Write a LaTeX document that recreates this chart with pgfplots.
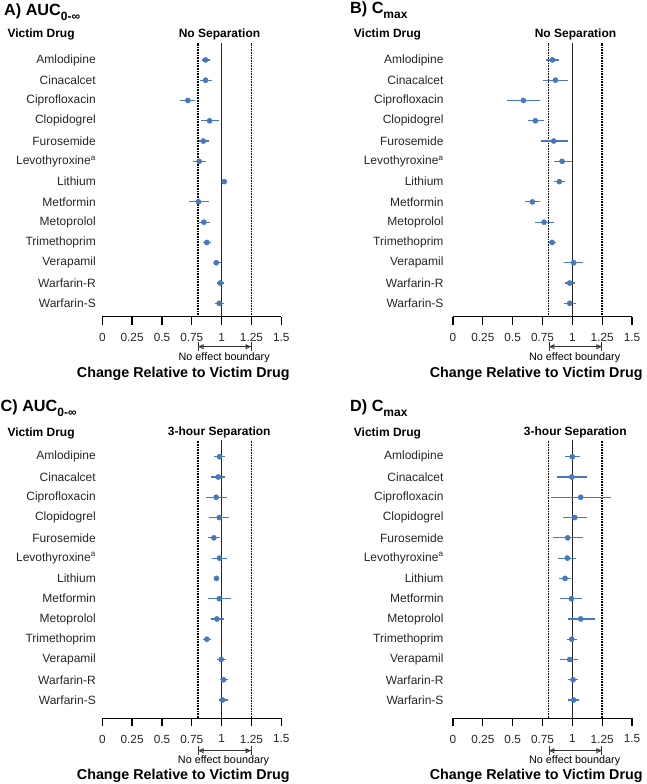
\documentclass[border=0pt]{standalone}
\usepackage{fontspec}
\setmainfont{Liberation Sans}
\usepackage{pgfplots}
\usepackage{pgfplotstable}
\pgfplotsset{compat=1.18}
\usetikzlibrary{arrows.meta}
\definecolor{dotblue}{RGB}{70,120,190}

\pgfplotstableread{
r m lo hi
13 0.865 0.835 0.905
12 0.865 0.815 0.918
11 0.717 0.652 0.778
10 0.899 0.829 0.977
9 0.846 0.812 0.890
8 0.812 0.764 0.868
7 1.022 1.005 1.038
6 0.806 0.728 0.890
5 0.851 0.812 0.899
4 0.876 0.848 0.910
3 0.955 0.927 0.994
2 0.988 0.963 1.016
1 0.980 0.946 1.016
}\tabA
\pgfplotstableread{
r m lo hi
13 0.833 0.782 0.886
12 0.858 0.754 0.964
11 0.590 0.453 0.732
10 0.690 0.629 0.760
9 0.844 0.735 0.964
8 0.914 0.847 0.995
7 0.891 0.844 0.942
6 0.665 0.606 0.726
5 0.763 0.687 0.844
4 0.830 0.802 0.866
3 1.011 0.930 1.087
2 0.978 0.939 1.020
1 0.978 0.930 1.031
}\tabB
\pgfplotstableread{
r m lo hi
13 0.982 0.932 1.030
12 0.971 0.907 1.030
11 0.954 0.870 1.044
10 0.980 0.896 1.058
9 0.935 0.887 0.988
8 0.982 0.918 1.044
7 0.957 0.945 0.969
6 0.980 0.882 1.080
5 0.960 0.907 1.016
4 0.876 0.845 0.910
3 0.996 0.960 1.038
2 1.016 0.988 1.052
1 1.008 0.974 1.050
}\tabC
\pgfplotstableread{
r m lo hi
13 1.000 0.939 1.062
12 0.995 0.875 1.120
11 1.070 0.819 1.327
10 1.020 0.922 1.120
9 0.961 0.838 1.092
8 0.958 0.883 1.034
7 0.939 0.889 0.992
6 0.992 0.900 1.081
5 1.070 0.964 1.187
4 0.995 0.958 1.037
3 0.978 0.900 1.051
2 1.006 0.967 1.045
1 1.011 0.964 1.059
}\tabD

\pgfplotsset{
  fp/.style={
    scale only axis, width=179pt,
    xmin=0, xmax=1.5,
    axis x line=bottom, axis y line=left,
    x axis line style={-, line width=1.3pt, black},
    y axis line style={draw=none},
    xtick={0,0.25,0.5,0.75,1,1.25,1.5},
    xticklabels={0,0.25,0.5,0.75,1,1.25,1.5},
    tick align=outside,
    major tick length=8pt,
    xtick style={line width=1.3pt, black},
    ytick={1,...,13},
    yticklabels={Warfarin-S,Warfarin-R,Verapamil,Trimethoprim,Metoprolol,Metformin,Lithium,Levothyroxine\textsuperscript{a},Furosemide,Clopidogrel,Ciprofloxacin,Cinacalcet,Amlodipine},
    ytick style={draw=none},
    xticklabel style={font=\fontsize{11.8}{12}\selectfont, text=black!85, yshift=-5pt},
    yticklabel style={font=\fontsize{12}{12}\selectfont, text=black!85, anchor=east},
    clip=false,
  },
  dat/.style={
    only marks, mark=*, mark size=2.6pt, color=dotblue,
    error bars/.cd, x dir=both, x explicit, error mark=none,
    error bar style={line width=1.15pt, dotblue},
  },
}
\newcommand{\reflines}[2]{%
  \draw[line width=1.5pt, black!85] (axis cs:1,#1) -- (axis cs:1,#2);
  \draw[line width=1.8pt, black, dash pattern=on 0.8pt off 0.8pt] (axis cs:0.8,#1) -- (axis cs:0.8,#2);
  \draw[line width=1.8pt, black, dash pattern=on 0.8pt off 0.8pt] (axis cs:1.25,#1) -- (axis cs:1.25,#2);
}
\newcommand{\plotdata}[1]{%
  \addplot[dat] table[x=m, y=r,
    x error plus expr=\thisrow{hi}-\thisrow{m},
    x error minus expr=\thisrow{m}-\thisrow{lo}] {#1};
}
\newcommand{\bracket}[3]{%
  \draw[line width=0.8pt, black!80,
    {Bar[width=9pt]Triangle[open,length=5pt,width=5pt]}-{Triangle[open,length=5pt,width=5pt]Bar[width=9pt]}]
    (#1pt,#3pt) -- (#2pt,#3pt);
}
\newcommand{\btxt}{\fontsize{12}{12}\selectfont\bfseries}

\begin{document}
\begin{tikzpicture}
% Panel A
\begin{axis}[fp, at={(102.3pt,467.3pt)}, anchor=south west, height=273.8pt, ymin=0.34, ymax=13.84,
  yticklabel style={xshift=5pt}]
\reflines{0.34}{13.84}
\plotdata{\tabA}
\end{axis}
% Panel B
\begin{axis}[fp, at={(453pt,467.3pt)}, anchor=south west, height=273.8pt, ymin=0.34, ymax=13.84,
  yticklabel style={xshift=2pt}]
\reflines{0.34}{13.84}
\plotdata{\tabB}
\end{axis}
% Panel C
\begin{axis}[fp, at={(102.3pt,65.7pt)}, anchor=south west, height=278.2pt, ymin=0.1, ymax=13.82,
  yticklabel style={xshift=5pt}]
\reflines{0.1}{13.82}
\plotdata{\tabC}
\end{axis}
% Panel D
\begin{axis}[fp, at={(453pt,65.7pt)}, anchor=south west, height=278.2pt, ymin=0.1, ymax=13.82,
  yticklabel style={xshift=2pt}]
\reflines{0.1}{13.82}
\plotdata{\tabD}
\end{axis}

% titles
\node[anchor=base west, inner sep=0pt] at (4pt,768pt) {\fontsize{16.2}{16}\selectfont\bfseries A) AUC\raisebox{-0.3em}{\fontsize{12}{12}\selectfont 0-∞}};
\node[anchor=base west, inner sep=0pt] at (350pt,770.5pt) {\fontsize{16.2}{16}\selectfont\bfseries B) C\raisebox{-0.3em}{\fontsize{12}{12}\selectfont max}};
\node[anchor=base west, inner sep=0pt] at (0.5pt,372.3pt) {\fontsize{16.2}{16}\selectfont\bfseries C) AUC\raisebox{-0.3em}{\fontsize{12}{12}\selectfont 0-∞}};
\node[anchor=base west, inner sep=0pt] at (350pt,372.3pt) {\fontsize{16.2}{16}\selectfont\bfseries D) C\raisebox{-0.3em}{\fontsize{12}{12}\selectfont max}};

% column headers
\node[anchor=base west, inner sep=0pt] at (7.3pt,746.7pt) {\btxt Victim Drug};
\node[anchor=base west, inner sep=0pt] at (353.7pt,746.7pt) {\btxt Victim Drug};
\node[anchor=base west, inner sep=0pt] at (7.3pt,347.3pt) {\btxt Victim Drug};
\node[anchor=base west, inner sep=0pt] at (353.7pt,347.3pt) {\btxt Victim Drug};
\node[anchor=base, inner sep=0pt] at (219.5pt,746.7pt) {\btxt No Separation};
\node[anchor=base, inner sep=0pt] at (575.5pt,746.7pt) {\btxt No Separation};
\node[anchor=base, inner sep=0pt] at (219.2pt,348.3pt) {\btxt 3-hour Separation};
\node[anchor=base, inner sep=0pt] at (575.3pt,348.3pt) {\btxt 3-hour Separation};

% no-effect boundary brackets
\bracket{197.8}{251.5}{437.3}
\bracket{548.5}{602.2}{437.3}
\bracket{197.8}{251.5}{33.3}
\bracket{548.5}{602.2}{33.3}
\node[anchor=base, inner sep=0pt] at (224.2pt,423pt) {\fontsize{10.8}{11}\selectfont No effect boundary};
\node[anchor=base, inner sep=0pt] at (574.7pt,423pt) {\fontsize{10.8}{11}\selectfont No effect boundary};
\node[anchor=base, inner sep=0pt] at (223.5pt,20pt) {\fontsize{10.8}{11}\selectfont No effect boundary};
\node[anchor=base, inner sep=0pt] at (574.7pt,20pt) {\fontsize{10.8}{11}\selectfont No effect boundary};

% x titles
\node[anchor=base, inner sep=0pt] at (183.3pt,406.3pt) {\fontsize{14.3}{14}\selectfont\bfseries Change Relative to Victim Drug};
\node[anchor=base, inner sep=0pt] at (536.2pt,406.3pt) {\fontsize{14.3}{14}\selectfont\bfseries Change Relative to Victim Drug};
\node[anchor=base, inner sep=0pt] at (183.3pt,4.7pt) {\fontsize{14.3}{14}\selectfont\bfseries Change Relative to Victim Drug};
\node[anchor=base, inner sep=0pt] at (536.2pt,4.7pt) {\fontsize{14.3}{14}\selectfont\bfseries Change Relative to Victim Drug};

\pgfresetboundingbox
\path (0,0) rectangle (646pt,784pt);
\end{tikzpicture}
\end{document}
